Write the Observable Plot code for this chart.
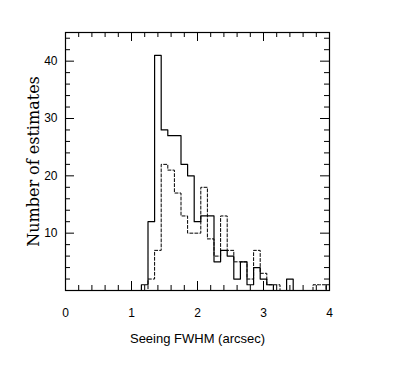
<!DOCTYPE html>
<html>
<head>
<meta charset="utf-8">
<script src="https://cdn.jsdelivr.net/npm/d3@7"></script>
<script src="https://cdn.jsdelivr.net/npm/@observablehq/plot@0.6"></script>
<style>
  html, body { margin: 0; padding: 0; background: #fff; }
</style>
</head>
<body>
<div id="chart"></div>
<script>
// Histogram bin centres (bin width 0.1 arcsec)
const binCenters = [1.2, 1.3, 1.4, 1.5, 1.6, 1.7, 1.8, 1.9, 2.0, 2.1, 2.2, 2.3, 2.4, 2.5, 2.6, 2.7, 2.8, 2.9, 3.0, 3.1, 3.2, 3.3, 3.4, 3.5, 3.6, 3.7, 3.8, 3.9, 4.0];
const solidCounts  = [1, 12, 41, 28, 27, 27, 22, 20, 12, 13, 13, 5, 7, 6, 2, 5, 1, 4, 2, 1, 0, 0, 2, 0, 0, 0, 0, 0, 1];
const dashedCounts = [0, 2, 7, 22, 21, 17, 13, 10, 10, 18, 9, 6, 13, 7, 5, 5, 2, 7, 3, 1, 1, 0, 0, 0, 0, 0, 1, 1, 0];
const binWidth = 0.1;

const xTickLabels = [0, 1, 2, 3, 4];
const yTickLabels = [10, 20, 30, 40];
const xMajorTicks = [0, 1, 2, 3, 4];
const xMinorTicks = [0.2, 0.4, 0.6, 0.8, 1.2, 1.4, 1.6, 1.8, 2.2, 2.4, 2.6, 2.8, 3.2, 3.4, 3.6, 3.8];
const yMajorTicks = [0, 10, 20, 30, 40];
const yMinorTicks = [2, 4, 6, 8, 12, 14, 16, 18, 22, 24, 26, 28, 32, 34, 36, 38, 42, 44];

const xLabel = "Seeing FWHM (arcsec)";
const yLabel = "Number of estimates";

// Step outline: one point at each bin's left edge, then closing edge
function outline(counts) {
  const pts = binCenters.map((c, i) => ({x: c - binWidth / 2, y: counts[i]}));
  pts.unshift({x: binCenters[0] - binWidth * 1.5, y: 0});
  pts.push({x: binCenters[binCenters.length - 1] + binWidth / 2, y: 0});
  return pts;
}

const W = 397, H = 367;
const mL = 65, mR = 68, mT = 32, mB = 77;
const plotH = H - mT - mB;
const plotW = W - mL - mR;
const majorLen = 9, minorLen = 5;
const sans = "'Liberation Sans', Arial, Helvetica, sans-serif";

const chart = Plot.plot({
  width: W,
  height: H,
  marginLeft: mL,
  marginRight: mR,
  marginTop: mT,
  marginBottom: mB,
  style: {background: "#fff", color: "#000", fontFamily: sans},
  x: {domain: [0, 4], axis: null},
  y: {domain: [0, 45], axis: null},
  marks: [
    Plot.line(outline(dashedCounts), {x: "x", y: "y", curve: "step-after", stroke: "#000", strokeWidth: 1, strokeDasharray: "3,2", clip: true}),
    Plot.line(outline(solidCounts), {x: "x", y: "y", curve: "step-after", stroke: "#000", strokeWidth: 1.2, clip: true}),
    Plot.frame({stroke: "#000", strokeWidth: 1.2}),
    // inward ticks, bottom
    Plot.tickX(xMajorTicks, {x: d => d, insetTop: plotH - majorLen, stroke: "#000"}),
    Plot.tickX(xMinorTicks, {x: d => d, insetTop: plotH - minorLen, stroke: "#000"}),
    // top
    Plot.tickX(xMajorTicks, {x: d => d, insetBottom: plotH - majorLen, stroke: "#000"}),
    Plot.tickX(xMinorTicks, {x: d => d, insetBottom: plotH - minorLen, stroke: "#000"}),
    // left
    Plot.tickY(yMajorTicks, {y: d => d, insetRight: plotW - majorLen, stroke: "#000"}),
    Plot.tickY(yMinorTicks, {y: d => d, insetRight: plotW - minorLen, stroke: "#000"}),
    // right
    Plot.tickY(yMajorTicks, {y: d => d, insetLeft: plotW - majorLen, stroke: "#000"}),
    Plot.tickY(yMinorTicks, {y: d => d, insetLeft: plotW - minorLen, stroke: "#000"}),
    // tick labels
    Plot.text(xTickLabels, {x: d => d, text: d => String(d), frameAnchor: "bottom", dy: 23, lineAnchor: "middle", fontSize: 12, fill: "#000"}),
    Plot.text(yTickLabels, {y: d => d, text: d => String(d), frameAnchor: "left", dx: -8, textAnchor: "end", fontSize: 12, fill: "#000"}),
    // axis titles
    Plot.text([xLabel], {text: d => d, frameAnchor: "bottom", dy: 48, lineAnchor: "middle", textAnchor: "middle", fontSize: 13, fill: "#000"}),
    Plot.text([yLabel], {text: d => d, frameAnchor: "left", dx: -32, rotate: -90, textAnchor: "middle", lineAnchor: "middle", fontSize: 16, fontFamily: "'DejaVu Serif', serif", fill: "#000"})
  ]
});
document.getElementById("chart").appendChild(chart);
</script>
</body>
</html>
